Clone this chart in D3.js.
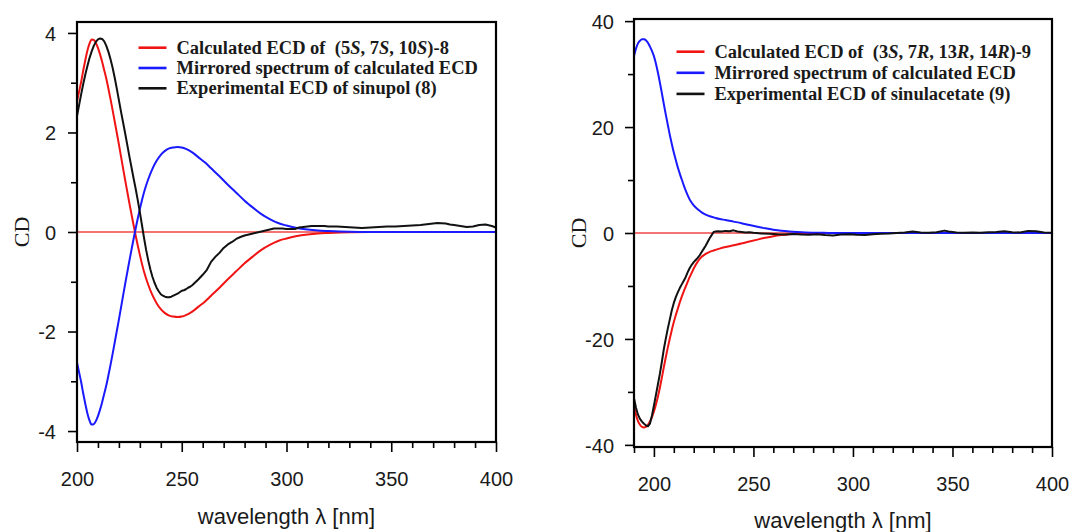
<!DOCTYPE html>
<html>
<head>
<meta charset="utf-8">
<script src="https://cdn.jsdelivr.net/npm/d3@7"></script>
<style>
  body { margin: 0; background: #fff; }
  svg { display: block; }
  .tick text { font-family: "Liberation Sans", Arial, sans-serif; font-size: 20px; fill: #1a1a1a; }
  .tick line { stroke: #000; stroke-width: 1.6px; }
  .legend text { font-family: "Liberation Serif", "Times New Roman", serif; font-size: 18.5px; font-weight: bold; fill: #1a1a1a; white-space: pre; }
  .xtitle { font-family: "Liberation Sans", Arial, sans-serif; font-size: 22px; fill: #1a1a1a; }
  .ytitle { font-family: "Liberation Serif", "Times New Roman", serif; font-size: 22px; fill: #1a1a1a; }
</style>
</head>
<body>
<div id="chart"></div>
<script>

// ---- left panel (8) ----
var leftCalcNm = [200,201,202,203,204,205,206,207,208,209,210,211,212,213,214,215,216,217,218,219,220,221,222,223,224,225,226,227,228,229,230,
    232,234,236,238,240,242,244,246,248,250,252,255,258,261,264,268,272,276,280,284,288,292,296,300,305,310,315,320,330,340,400];
var leftCalc = [2.62,2.82,3.02,3.25,3.46,3.65,3.79,3.87,3.86,3.8,3.7,3.57,3.42,3.25,3.08,2.88,2.67,2.45,2.22,1.99,1.76,1.52,1.28,1.04,0.81,0.58,0.36,0.14,-0.07,-0.27,-0.46,
    -0.8,-1.06,-1.27,-1.43,-1.55,-1.63,-1.68,-1.70,-1.71,-1.70,-1.67,-1.6,-1.5,-1.4,-1.28,-1.12,-0.95,-0.79,-0.63,-0.49,-0.36,-0.26,-0.18,-0.13,-0.08,-0.05,-0.03,-0.02,-0.005,0,0];
var leftMirror = [-2.62,-2.82,-3.02,-3.25,-3.46,-3.65,-3.79,-3.87,-3.86,-3.8,-3.7,-3.57,-3.42,-3.25,-3.08,-2.88,-2.67,-2.45,-2.22,-1.99,-1.76,-1.52,-1.28,-1.04,-0.81,-0.58,-0.36,-0.14,0.07,0.27,0.46,
    0.8,1.06,1.27,1.43,1.55,1.63,1.68,1.70,1.71,1.70,1.67,1.6,1.5,1.4,1.28,1.12,0.95,0.79,0.63,0.49,0.36,0.26,0.18,0.13,0.08,0.05,0.03,0.02,0.005,0,0];
var leftExpNm = [200,201,202,203,204,205,206,207,208,209,210,211,212,213,214,215,216,217,218,219,220,221,222,223,224,225,226,227,228,229,230,
    231,232,233,234,235,236,237,238,239,240,241,242,243,244,245,
    246,247,248,249,250,251,252,253,254,255,256,257,258,
    260,262,264,266,268,270,272,274,276,278,280,282,284,286,288,290,292,294,296,298,300,302,304,306,308,310,312,314,316,318,320,
    324,328,332,336,340,344,348,352,356,360,364,368,372,376,378,380,383,386,389,392,395,398,400];
var leftExp = [2.33,2.55,2.77,2.98,3.17,3.34,3.5,3.63,3.74,3.82,3.87,3.89,3.88,3.83,3.74,3.62,3.47,3.3,3.1,2.88,2.65,2.42,2.2,1.98,1.75,1.52,1.3,1.08,0.87,0.64,0.4,
    0.14,-0.12,-0.36,-0.57,-0.75,-0.9,-1.02,-1.12,-1.19,-1.25,-1.28,-1.3,-1.31,-1.31,-1.3,
    -1.28,-1.26,-1.24,-1.21,-1.18,-1.17,-1.15,-1.12,-1.1,-1.07,-1.03,-0.99,-0.95,
    -0.86,-0.76,-0.6,-0.5,-0.42,-0.32,-0.25,-0.2,-0.14,-0.1,-0.07,-0.05,-0.03,-0.01,0.01,0.03,0.05,0.07,0.07,0.07,0.06,0.06,0.06,0.09,0.1,0.11,0.12,0.12,0.12,0.12,0.11,
    0.11,0.1,0.09,0.08,0.09,0.1,0.11,0.11,0.12,0.13,0.14,0.16,0.18,0.17,0.15,0.14,0.12,0.1,0.11,0.14,0.15,0.12,0.09];

// ---- right panel (9) ----
var rightCalcNm = [190,191,192,193,194,195,196,197,198,199,200,201,202,203,204,205,206,207,208,209,210,211,212,213,214,215,216,217,218,219,220,
    222,224,226,228,230,233,236,240,244,248,252,256,260,264,268,272,276,280,285,290,300,400];
var rightCalc = [-32.5,-34.3,-35.5,-36.2,-36.6,-36.7,-36.6,-36.2,-35.6,-34.8,-33.7,-32.4,-30.9,-29.2,-27.3,-25.3,-23.4,-21.6,-19.9,-18.3,-16.8,-15.5,-14.3,-13.1,-12.0,-11.0,-10.1,-9.2,-8.3,-7.5,-6.7,
    -5.4,-4.5,-3.95,-3.55,-3.3,-2.95,-2.65,-2.3,-2.0,-1.62,-1.25,-0.9,-0.6,-0.38,-0.22,-0.12,-0.06,-0.03,-0.01,0,0,0];
var rightMirror = [33.4,34.8,35.8,36.3,36.6,36.6,36.4,35.9,35.2,34.4,33.4,32.0,30.3,28.4,26.4,24.3,22.3,20.4,18.5,16.8,15.2,13.8,12.4,11.2,10.1,9.0,8.0,7.1,6.3,5.7,5.2,
    4.5,3.9,3.45,3.15,2.95,2.65,2.45,2.15,1.85,1.5,1.18,0.88,0.62,0.42,0.28,0.18,0.1,0.06,0.03,0.01,0,0];
var rightExpNm = [190,191,192,193,194,195,196,197,198,199,200,201,202,203,204,205,206,207,208,209,210,211,212,213,214,215,216,217,218,219,220,
    221,222,223,224,225,226,227,228,229,230,231,232,234,236,238,240,242,244,246,248,250,
    254,258,262,266,270,274,278,282,286,290,294,298,302,306,310,314,318,322,326,330,334,338,342,346,348,352,356,360,364,368,372,376,380,384,388,392,396,400];
var rightExp = [-31.2,-33.0,-34.3,-35.1,-35.6,-36.0,-36.3,-36.5,-36.0,-34.5,-32.6,-30.6,-28.6,-26.6,-24.3,-21.9,-19.9,-18.0,-16.3,-14.6,-13.2,-12.1,-11.2,-10.4,-9.7,-9.0,-8.3,-7.4,-6.6,-6.0,-5.5,
    -5.1,-4.7,-4.2,-3.6,-3.0,-2.4,-1.7,-1.0,-0.4,0.2,0.3,0.35,0.3,0.4,0.35,0.5,0.3,0.2,0.1,0.15,0.05,
    -0.1,-0.15,-0.25,-0.3,-0.2,-0.3,-0.35,-0.25,-0.4,-0.45,-0.3,-0.25,-0.35,-0.4,-0.25,-0.15,-0.1,0,0.1,0.3,0.1,0.05,0.15,0.45,0.3,0.1,0.05,0.1,0.05,0.15,0.2,0.35,0.15,0.1,0.4,0.35,0.1,0.05];

// ticks
var leftXMajor = [200, 250, 300, 350, 400];
var leftXMinor = [210,220,230,240,260,270,280,290,310,320,330,340,360,370,380,390];
var leftYMajor = [-4, -2, 0, 2, 4];
var leftYMinor = [-3, -1, 1, 3];
var rightXMajor = [200, 250, 300, 350, 400];
var rightXMinor = [190,210,220,230,240,260,270,280,290,310,320,330,340,360,370,380,390];
var rightYMajor = [-40, -20, 0, 20, 40];
var rightYMinor = [-30, -10, 10, 30];

// legend texts: [text, italic]
var leftLegend = [
    [["Calculated ECD of  (5", 0], ["S", 1], [", 7", 0], ["S", 1], [", 10", 0], ["S", 1], [")-8", 0]],
    [["Mirrored spectrum of calculated ECD", 0]],
    [["Experimental ECD of sinupol (8)", 0]]
];
var rightLegend = [
    [["Calculated ECD of  (3", 0], ["S", 1], [", 7", 0], ["R", 1], [", 13", 0], ["R", 1], [", 14", 0], ["R", 1], [")-9", 0]],
    [["Mirrored spectrum of calculated ECD", 0]],
    [["Experimental ECD of sinulacetate (9)", 0]]
];
var seriesColors = ["#f01414", "#1a1aff", "#111111"];

var svg = d3.select("#chart").append("svg")
    .attr("width", 1072)
    .attr("height", 532);

// plain hyphen minus like the original figure
function fmt(d){ return String(d); }

function buildPanel(p) {

    var x = d3.scaleLinear().domain(p.xDomain).range([p.left, p.right]);
    var y = d3.scaleLinear().domain(p.yDomain).range([p.bottom, p.top]);
    var g = svg.append("g");

    // minor ticks first, majors on top
    g.append("g")
        .attr("transform", "translate(0," + p.bottom + ")")
        .call(d3.axisBottom(x).tickValues(p.xMinor).tickSize(6).tickFormat(""))
        .call(function(a){ a.select(".domain").remove(); });
    var xa = g.append("g")
        .attr("transform", "translate(0," + p.bottom + ")")
        .call(d3.axisBottom(x).tickValues(p.xMajor).tickSize(10).tickFormat(fmt));
    xa.select(".domain").remove();
    xa.selectAll("text").attr("y", p.xLabelOffset).attr("dy", 0);

    g.append("g")
        .attr("transform", "translate(" + p.left + ",0)")
        .call(d3.axisLeft(y).tickValues(p.yMinor).tickSize(6).tickFormat(""))
        .call(function(a){ a.select(".domain").remove(); });
    var ya = g.append("g")
        .attr("transform", "translate(" + p.left + ",0)")
        .call(d3.axisLeft(y).tickValues(p.yMajor).tickSize(9).tickPadding(p.yPad).tickFormat(fmt));
    ya.select(".domain").remove();
    ya.selectAll("text").attr("dy", "0.36em");

    // zero line
    g.append("line")
        .attr("x1", x(p.xDomain[0])).attr("x2", x(p.xDomain[1]))
        .attr("y1", y(0)).attr("y2", y(0))
        .attr("stroke", "#f04646")
        .attr("stroke-width", 1.6);

    var smooth = d3.line()
        .x(function(d){ return x(d[0]); })
        .y(function(d){ return y(d[1]); })
        .curve(d3.curveMonotoneX);
    var raw = d3.line()
        .x(function(d){ return x(d[0]); })
        .y(function(d){ return y(d[1]); });

    g.append("path").datum(d3.zip(p.calcNm, p.calc))
        .attr("d", smooth).attr("fill", "none")
        .attr("stroke", seriesColors[0]).attr("stroke-width", 2);
    g.append("path").datum(d3.zip(p.calcNm, p.mirror))
        .attr("d", smooth).attr("fill", "none")
        .attr("stroke", seriesColors[1]).attr("stroke-width", 2);
    g.append("path").datum(d3.zip(p.expNm, p.exp))
        .attr("d", raw).attr("fill", "none")
        .attr("stroke", seriesColors[2]).attr("stroke-width", 2)
        .attr("stroke-linejoin", "round");

    // frame
    g.append("rect")
        .attr("x", p.left).attr("y", p.top)
        .attr("width", p.right - p.left).attr("height", p.bottom - p.top)
        .attr("fill", "none").attr("stroke", "#000").attr("stroke-width", 2.2);

    // axis titles
    g.append("text").attr("class", "xtitle")
        .attr("x", (p.left + p.right) / 2).attr("y", p.titleY)
        .attr("text-anchor", "middle")
        .text("wavelength \u03bb [nm]");
    g.append("text").attr("class", "ytitle")
        .attr("transform", "translate(" + p.cdX + "," + y(0) + ") rotate(-90)")
        .attr("text-anchor", "middle").attr("dy", "0.35em")
        .text("CD");

    // legend
    var lg = g.append("g").attr("class", "legend");
    p.legend.forEach(function(parts, i){
        var ly = p.legendY + i * p.legendStep;
        lg.append("line")
            .attr("x1", p.legendX).attr("x2", p.legendX + 28)
            .attr("y1", ly).attr("y2", ly)
            .attr("stroke", seriesColors[i]).attr("stroke-width", 2.6);
        var t = lg.append("text")
            .attr("x", p.legendX + 38).attr("y", ly).attr("dy", "0.33em");
        parts.forEach(function(pt){
            t.append("tspan").style("font-style", pt[1] ? "italic" : "normal").text(pt[0]);
        });
    });
}

buildPanel({
    left: 77, right: 496, top: 22, bottom: 442,
    xDomain: [200, 400], yDomain: [-4.22, 4.22],
    xMajor: leftXMajor, xMinor: leftXMinor, yMajor: leftYMajor, yMinor: leftYMinor,
    xLabelOffset: 44, titleY: 524, yPad: 12, cdX: 21,
    calcNm: leftCalcNm, calc: leftCalc, mirror: leftMirror, expNm: leftExpNm, exp: leftExp,
    legend: leftLegend, legendX: 138.5, legendY: 47.7, legendStep: 20.3
});

buildPanel({
    left: 634, right: 1052, top: 19, bottom: 447,
    xDomain: [190, 400], yDomain: [-40.4, 40.4],
    xMajor: rightXMajor, xMinor: rightXMinor, yMajor: rightYMajor, yMinor: rightYMinor,
    xLabelOffset: 44, titleY: 528, yPad: 11, cdX: 578,
    calcNm: rightCalcNm, calc: rightCalc, mirror: rightMirror, expNm: rightExpNm, exp: rightExp,
    legend: rightLegend, legendX: 676.5, legendY: 51.7, legendStep: 21.1
});

</script>
</body>
</html>
